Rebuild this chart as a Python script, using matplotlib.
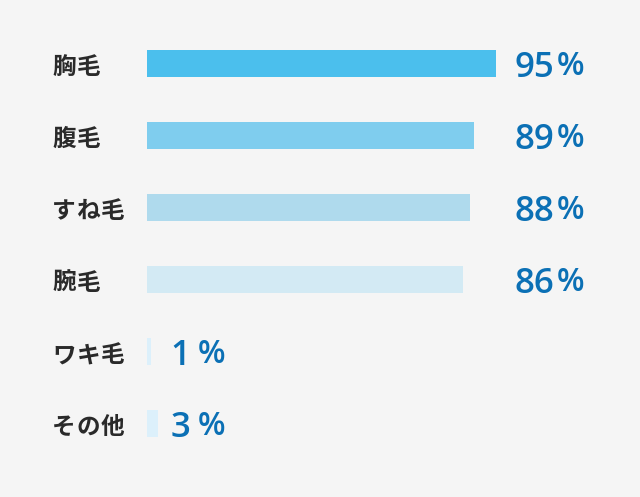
import matplotlib
matplotlib.use("Agg")
import matplotlib.pyplot as plt
import matplotlib.transforms as mtransforms

# --- データ ---
categories = ["胸毛", "腹毛", "すね毛", "腕毛", "ワキ毛", "その他"]
values = [95, 89, 88, 86, 1, 3]
bar_colors = ["#4bbfed", "#7fcdee", "#afdaed", "#d3eaf4", "#dcf0fb", "#dcf0fb"]

BG = "#f5f5f5"
VALUE_COLOR = "#0b70b5"
LABEL_COLOR = "#2a2a2a"
NUM_FONT = ["Open Sans", "Noto Sans CJK JP", "DejaVu Sans"]

fig = plt.figure(figsize=(6.4, 4.97), dpi=100, facecolor=BG)

# eixo posicionado em pixels: x de 147 a 514, linhas a cada 72 px
W, H = 640, 497
top_px, bottom_px = 27.5, 459.5
ax = fig.add_axes([147 / W, 1 - bottom_px / H, 367 / W, (bottom_px - top_px) / H])
ax.set_facecolor(BG)

rows = list(range(len(categories)))
ax.barh(rows, values, height=0.375, color=bar_colors, zorder=2)

ax.set_xlim(0, 100)
ax.set_ylim(len(categories) - 0.5, -0.5)
ax.axis("off")

# rótulos à esquerda, um caractere por vez para ter o espaçamento
trans = mtransforms.blended_transform_factory(fig.transFigure, ax.transData)
step = 24.5  # px por caractere
for r, cat in zip(rows, categories):
    for i, ch in enumerate(cat):
        fig.text((52 + i * step) / W, r + 0.05, ch, transform=trans,
                 ha="left", va="center", fontsize=17, fontweight="bold",
                 color=LABEL_COLOR, family=["Noto Sans CJK JP", "DejaVu Sans"])

# valores: número grande + "%" menor
for r, v in zip(rows, values):
    x = 100 if v > 50 else 6.5
    gap = 2 if v > 50 else 5
    num = ax.text(x, r + 0.06, str(v), ha="left", va="center", fontsize=25,
                  fontweight="semibold", color=VALUE_COLOR, family=NUM_FONT,
                  clip_on=False)
    ax.annotate("%", xy=(1, 0), xycoords=num, xytext=(gap, 1.5),
                textcoords="offset points", ha="left", va="bottom",
                fontsize=23, fontweight="semibold", color=VALUE_COLOR,
                family=NUM_FONT, annotation_clip=False)

fig.savefig("out.png", dpi=100, facecolor=BG)
